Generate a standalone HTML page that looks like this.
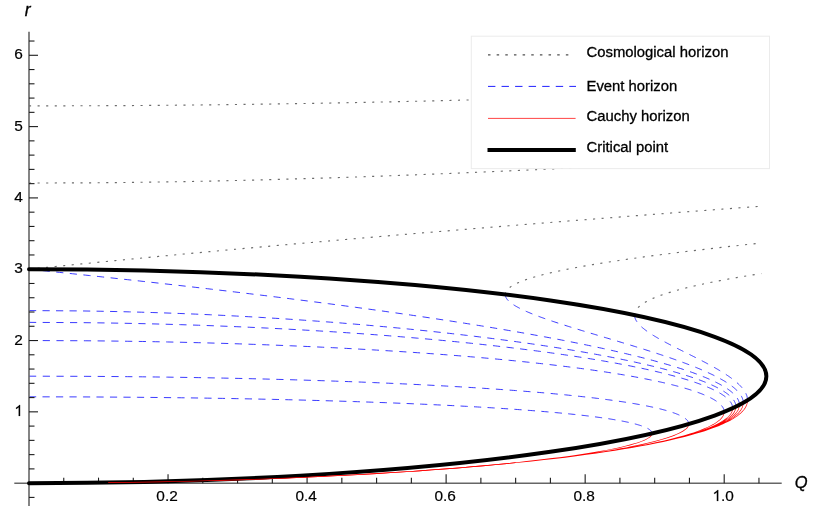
<!DOCTYPE html>
<html><head><meta charset="utf-8"><title>Horizons</title>
<style>
html,body{margin:0;padding:0;background:#fff;}
body{width:830px;height:520px;overflow:hidden;font-family:"Liberation Sans",sans-serif;}
svg{display:block;will-change:transform;}
text{font-family:"Liberation Sans",sans-serif;font-size:14.85px;fill:#000;stroke:#000;stroke-width:0.3px;}
#ticklabels text{font-size:15.4px;stroke-width:0.2px;}
</style></head><body>
<svg width="830" height="520" viewBox="0 0 830 520">
<rect width="830" height="520" fill="#fff"/>
<g id="ticklabels">
<text transform="translate(167.04,501.00) scale(1,1.000)" text-anchor="middle">0.2</text>
<text transform="translate(306.08,501.00) scale(1,1.000)" text-anchor="middle">0.4</text>
<text transform="translate(445.12,501.00) scale(1,1.000)" text-anchor="middle">0.6</text>
<text transform="translate(584.16,501.00) scale(1,1.000)" text-anchor="middle">0.8</text>
<path d="M763 0H583V1147Q518 1085 412.5 1023T223 930V1104Q380 1178 497.5 1283T664 1466H763Z" transform="translate(712.50,501.00) scale(0.007520,-0.007520)" fill="#000" stroke="#000" stroke-width="26.6"/>
<text transform="translate(721.06,501.00) scale(1,1.000)" text-anchor="start">.0</text>
<text transform="translate(22.90,344.63) scale(1,1.000)" text-anchor="end">2</text>
<text transform="translate(22.90,273.32) scale(1,1.000)" text-anchor="end">3</text>
<text transform="translate(22.90,202.01) scale(1,1.000)" text-anchor="end">4</text>
<text transform="translate(22.90,130.70) scale(1,1.000)" text-anchor="end">5</text>
<text transform="translate(22.90,59.39) scale(1,1.000)" text-anchor="end">6</text>
<path d="M763 0H583V1147Q518 1085 412.5 1023T223 930V1104Q380 1178 497.5 1283T664 1466H763Z" transform="translate(14.34,415.94) scale(0.007520,-0.007520)" fill="#000" stroke="#000" stroke-width="26.6"/>
</g>
<text x="24.8" y="16.3" font-style="italic" style="font-size:17.5px">r</text>
<text x="794.8" y="487.5" font-style="italic" style="font-size:16.5px">Q</text>
<g id="curves">
<g fill="none" stroke="#6c6c6c" stroke-width="1.15" stroke-dasharray="2.1 6.48">
<path d="M634.60,315.16 L634.61,314.83 L634.63,314.49 L634.66,314.16 L634.71,313.82 L634.77,313.48 L634.84,313.15 L634.93,312.81 L635.03,312.48 L635.14,312.14 L635.27,311.81 L635.41,311.47 L635.56,311.13 L635.73,310.80 L635.92,310.46 L636.12,310.13 L636.33,309.79 L636.56,309.46 L636.80,309.12 L637.06,308.78 L637.33,308.45 L637.62,308.11 L637.92,307.78 L638.24,307.44 L638.58,307.11 L638.93,306.77 L639.29,306.43 L639.67,306.10 L640.07,305.76 L640.48,305.43 L640.91,305.09 L641.36,304.76 L641.82,304.42 L642.29,304.08 L642.79,303.75 L643.30,303.41 L643.83,303.08 L644.37,302.74 L644.93,302.41 L645.51,302.07 L646.10,301.73 L646.71,301.40 L647.34,301.06 L647.99,300.73 L648.65,300.39 L649.33,300.06 L650.03,299.72 L650.74,299.38 L651.47,299.05 L652.22,298.71 L652.99,298.38 L653.78,298.04 L654.58,297.71 L655.40,297.37 L656.24,297.03 L657.10,296.70 L657.97,296.36 L658.86,296.03 L659.78,295.69 L660.70,295.36 L661.65,295.02 L662.62,294.69 L663.60,294.35 L664.60,294.01 L665.63,293.68 L666.66,293.34 L667.72,293.01 L668.80,292.67 L669.89,292.34 L671.01,292.00 L672.14,291.66 L673.29,291.33 L674.46,290.99 L675.65,290.66 L676.86,290.32 L678.08,289.99 L679.33,289.65 L680.59,289.31 L681.87,288.98 L683.17,288.64 L684.49,288.31 L685.83,287.97 L687.19,287.64 L688.57,287.30 L689.96,286.96 L691.38,286.63 L692.81,286.29 L694.27,285.96 L695.74,285.62 L697.23,285.29 L698.74,284.95 L700.27,284.61 L701.81,284.28 L703.38,283.94 L704.97,283.61 L706.57,283.27 L708.20,282.94 L709.84,282.60 L711.50,282.26 L713.18,281.93 L714.88,281.59 L716.60,281.26 L718.34,280.92 L720.09,280.59 L721.87,280.25 L723.66,279.91 L725.48,279.58 L727.31,279.24 L729.16,278.91 L731.03,278.57 L732.92,278.24 L734.82,277.90 L736.75,277.56 L738.69,277.23 L740.66,276.89 L742.64,276.56 L744.64,276.22 L746.66,275.89 L748.69,275.55 L750.75,275.22 L752.83,274.88 L754.92,274.54 L757.03,274.21 L759.16,273.87 L761.31,273.54"/>
<path d="M505.24,294.52 L505.25,294.20 L505.28,293.89 L505.32,293.57 L505.38,293.25 L505.46,292.93 L505.56,292.61 L505.68,292.29 L505.81,291.97 L505.96,291.66 L506.14,291.34 L506.33,291.02 L506.54,290.70 L506.77,290.38 L507.01,290.06 L507.28,289.75 L507.57,289.43 L507.87,289.11 L508.19,288.79 L508.54,288.47 L508.90,288.15 L509.29,287.83 L509.69,287.52 L510.11,287.20 L510.55,286.88 L511.02,286.56 L511.50,286.24 L512.00,285.92 L512.53,285.60 L513.07,285.29 L513.63,284.97 L514.22,284.65 L514.82,284.33 L515.45,284.01 L516.09,283.69 L516.76,283.38 L517.45,283.06 L518.16,282.74 L518.88,282.42 L519.63,282.10 L520.40,281.78 L521.19,281.46 L522.01,281.15 L522.84,280.83 L523.69,280.51 L524.57,280.19 L525.46,279.87 L526.38,279.55 L527.32,279.24 L528.28,278.92 L529.26,278.60 L530.26,278.28 L531.28,277.96 L532.32,277.64 L533.39,277.32 L534.47,277.01 L535.58,276.69 L536.70,276.37 L537.85,276.05 L539.02,275.73 L540.21,275.41 L541.42,275.10 L542.65,274.78 L543.91,274.46 L545.18,274.14 L546.48,273.82 L547.79,273.50 L549.13,273.18 L550.49,272.87 L551.87,272.55 L553.26,272.23 L554.68,271.91 L556.12,271.59 L557.59,271.27 L559.07,270.95 L560.57,270.64 L562.09,270.32 L563.64,270.00 L565.20,269.68 L566.78,269.36 L568.39,269.04 L570.01,268.73 L571.66,268.41 L573.32,268.09 L575.01,267.77 L576.71,267.45 L578.44,267.13 L580.18,266.81 L581.95,266.50 L583.73,266.18 L585.54,265.86 L587.36,265.54 L589.20,265.22 L591.07,264.90 L592.95,264.59 L594.85,264.27 L596.77,263.95 L598.71,263.63 L600.67,263.31 L602.65,262.99 L604.65,262.67 L606.67,262.36 L608.70,262.04 L610.76,261.72 L612.83,261.40 L614.92,261.08 L617.03,260.76 L619.16,260.45 L621.31,260.13 L623.47,259.81 L625.66,259.49 L627.86,259.17 L630.08,258.85 L632.32,258.53 L634.57,258.22 L636.85,257.90 L639.14,257.58 L641.45,257.26 L643.77,256.94 L646.12,256.62 L648.48,256.31 L650.86,255.99 L653.25,255.67 L655.67,255.35 L658.10,255.03 L660.55,254.71 L663.01,254.39 L665.49,254.08 L667.99,253.76 L670.51,253.44 L673.04,253.12 L675.59,252.80 L678.15,252.48 L680.73,252.16 L683.33,251.85 L685.94,251.53 L688.57,251.21 L691.22,250.89 L693.88,250.57 L696.56,250.25 L699.25,249.94 L701.96,249.62 L704.69,249.30 L707.43,248.98 L710.18,248.66 L712.95,248.34 L715.74,248.02 L718.54,247.71 L721.36,247.39 L724.19,247.07 L727.04,246.75 L729.90,246.43 L732.78,246.11 L735.67,245.80 L738.58,245.48 L741.50,245.16 L744.44,244.84 L747.39,244.52 L750.36,244.20 L753.34,243.88 L756.33,243.57 L759.34,243.25"/>
<path d="M29.00,269.22 L31.90,268.92 L34.81,268.63 L37.72,268.33 L40.64,268.03 L43.56,267.73 L46.49,267.44 L49.43,267.14 L52.36,266.84 L55.31,266.54 L58.26,266.25 L61.21,265.95 L64.18,265.65 L67.14,265.35 L70.11,265.06 L73.09,264.76 L76.07,264.46 L79.06,264.16 L82.05,263.87 L85.05,263.57 L88.05,263.27 L91.06,262.98 L94.08,262.68 L97.10,262.38 L100.12,262.08 L103.15,261.79 L106.19,261.49 L109.23,261.19 L112.27,260.89 L115.33,260.60 L118.38,260.30 L121.44,260.00 L124.51,259.70 L127.58,259.41 L130.66,259.11 L133.75,258.81 L136.83,258.51 L139.93,258.22 L143.03,257.92 L146.13,257.62 L149.24,257.33 L152.36,257.03 L155.48,256.73 L158.60,256.43 L161.74,256.14 L164.87,255.84 L168.01,255.54 L171.16,255.24 L174.31,254.95 L177.47,254.65 L180.63,254.35 L183.80,254.05 L186.98,253.76 L190.15,253.46 L193.34,253.16 L196.53,252.86 L199.72,252.57 L202.92,252.27 L206.13,251.97 L209.34,251.68 L212.55,251.38 L215.77,251.08 L219.00,250.78 L222.23,250.49 L225.47,250.19 L228.71,249.89 L231.96,249.59 L235.21,249.30 L238.47,249.00 L241.73,248.70 L245.00,248.40 L248.27,248.11 L251.55,247.81 L254.84,247.51 L258.13,247.21 L261.42,246.92 L264.72,246.62 L268.03,246.32 L271.34,246.02 L274.65,245.73 L277.97,245.43 L281.30,245.13 L284.63,244.84 L287.97,244.54 L291.31,244.24 L294.66,243.94 L298.01,243.65 L301.37,243.35 L304.73,243.05 L308.10,242.75 L311.47,242.46 L314.85,242.16 L318.23,241.86 L321.62,241.56 L325.01,241.27 L328.41,240.97 L331.82,240.67 L335.23,240.37 L338.64,240.08 L342.06,239.78 L345.49,239.48 L348.92,239.19 L352.36,238.89 L355.80,238.59 L359.24,238.29 L362.69,238.00 L366.15,237.70 L369.61,237.40 L373.08,237.10 L376.55,236.81 L380.03,236.51 L383.51,236.21 L387.00,235.91 L390.49,235.62 L393.99,235.32 L397.50,235.02 L401.01,234.72 L404.52,234.43 L408.04,234.13 L411.56,233.83 L415.09,233.54 L418.63,233.24 L422.17,232.94 L425.71,232.64 L429.26,232.35 L432.82,232.05 L436.38,231.75 L439.94,231.45 L443.52,231.16 L447.09,230.86 L450.67,230.56 L454.26,230.26 L457.85,229.97 L461.45,229.67 L465.05,229.37 L468.66,229.07 L472.27,228.78 L475.89,228.48 L479.51,228.18 L483.14,227.89 L486.77,227.59 L490.41,227.29 L494.05,226.99 L497.70,226.70 L501.36,226.40 L505.02,226.10 L508.68,225.80 L512.35,225.51 L516.02,225.21 L519.70,224.91 L523.39,224.61 L527.08,224.32 L530.77,224.02 L534.47,223.72 L538.18,223.42 L541.89,223.13 L545.60,222.83 L549.32,222.53 L553.05,222.24 L556.78,221.94 L560.52,221.64 L564.26,221.34 L568.01,221.05 L571.76,220.75 L575.51,220.45 L579.28,220.15 L583.04,219.86 L586.82,219.56 L590.59,219.26 L594.38,218.96 L598.16,218.67 L601.96,218.37 L605.75,218.07 L609.56,217.77 L613.37,217.48 L617.18,217.18 L621.00,216.88 L624.82,216.59 L628.65,216.29 L632.48,215.99 L636.32,215.69 L640.17,215.40 L644.02,215.10 L647.87,214.80 L651.73,214.50 L655.59,214.21 L659.46,213.91 L663.34,213.61 L667.22,213.31 L671.10,213.02 L674.99,212.72 L678.89,212.42 L682.79,212.12 L686.69,211.83 L690.61,211.53 L694.52,211.23 L698.44,210.93 L702.37,210.64 L706.30,210.34 L710.23,210.04 L714.18,209.75 L718.12,209.45 L722.07,209.15 L726.03,208.85 L729.99,208.56 L733.96,208.26 L737.93,207.96 L741.91,207.66 L745.89,207.37 L749.88,207.07 L753.87,206.77 L757.87,206.47"/>
<path d="M29.00,183.05 L89.86,182.82 L115.19,182.60 L134.71,182.37 L151.24,182.15 L165.85,181.92 L179.13,181.70 L191.38,181.47 L202.83,181.24 L213.64,181.02 L223.89,180.79 L233.69,180.57 L243.09,180.34 L252.14,180.12 L260.88,179.89 L269.35,179.67 L277.57,179.44 L285.58,179.22 L293.38,178.99 L301.00,178.76 L308.44,178.54 L315.74,178.31 L322.89,178.09 L329.90,177.86 L336.79,177.64 L343.57,177.41 L350.23,177.19 L356.80,176.96 L363.27,176.73 L369.64,176.51 L375.94,176.28 L382.15,176.06 L388.28,175.83 L394.35,175.61 L400.34,175.38 L406.27,175.16 L412.13,174.93 L417.94,174.71 L423.69,174.48 L429.38,174.25 L435.02,174.03 L440.62,173.80 L446.16,173.58 L451.66,173.35 L457.12,173.13 L462.53,172.90 L467.90,172.68 L473.23,172.45 L478.53,172.22 L483.79,172.00 L489.01,171.77 L494.20,171.55 L499.36,171.32 L504.48,171.10 L509.58,170.87 L514.64,170.65 L519.68,170.42 L524.69,170.19 L529.67,169.97 L534.63,169.74 L539.56,169.52 L544.47,169.29 L549.35,169.07 L554.21,168.84 L559.05,168.62 L563.87,168.39 L568.66,168.17 L573.44,167.94 L578.20,167.71 L582.93,167.49 L587.65,167.26 L592.35,167.04 L597.03,166.81 L601.70,166.59 L606.35,166.36 L610.98,166.14 L615.60,165.91 L620.20,165.68 L624.78,165.46 L629.36,165.23 L633.91,165.01 L638.46,164.78 L642.98,164.56 L647.50,164.33 L652.00,164.11 L656.49,163.88 L660.97,163.66 L665.44,163.43 L669.89,163.20 L674.34,162.98 L678.77,162.75 L683.19,162.53 L687.60,162.30 L692.00,162.08 L696.39,161.85 L700.77,161.63 L705.14,161.40 L709.50,161.17 L713.85,160.95 L718.19,160.72 L722.53,160.50 L726.85,160.27 L731.17,160.05 L735.48,159.82 L739.78,159.60 L744.07,159.37 L748.36,159.15 L752.63,158.92 L756.90,158.69 L761.16,158.47"/>
<path d="M29.00,105.89 L99.78,105.73 L129.17,105.57 L151.76,105.41 L170.85,105.25 L187.70,105.09 L202.96,104.93 L217.03,104.77 L230.14,104.61 L242.49,104.44 L254.19,104.28 L265.34,104.12 L276.01,103.96 L286.27,103.80 L296.16,103.64 L305.72,103.48 L314.99,103.32 L323.98,103.15 L332.74,102.99 L341.27,102.83 L349.60,102.67 L357.73,102.51 L365.69,102.35 L373.49,102.19 L381.13,102.03 L388.63,101.87 L396.00,101.70 L403.24,101.54 L410.36,101.38 L417.36,101.22 L424.27,101.06 L431.07,100.90 L437.77,100.74 L444.38,100.58 L450.91,100.42 L457.35,100.25 L463.71,100.09 L470.00,99.93 L476.22,99.77 L482.36,99.61 L488.44,99.45 L494.45,99.29 L500.41,99.13 L506.30,98.96 L512.13,98.80 L517.91,98.64 L523.64,98.48 L529.32,98.32 L534.94,98.16 L540.52,98.00 L546.05,97.84 L551.54,97.68 L556.99,97.51 L562.39,97.35 L567.75,97.19 L573.07,97.03 L578.35,96.87 L583.60,96.71 L588.81,96.55 L593.98,96.39 L599.12,96.22 L604.22,96.06 L609.30,95.90 L614.34,95.74 L619.35,95.58 L624.33,95.42 L629.28,95.26 L634.21,95.10 L639.10,94.94 L643.97,94.77 L648.81,94.61 L653.63,94.45 L658.42,94.29 L663.19,94.13 L667.93,93.97 L672.65,93.81 L677.34,93.65 L682.02,93.49 L686.67,93.32 L691.30,93.16 L695.91,93.00 L700.49,92.84 L705.06,92.68 L709.61,92.52 L714.14,92.36 L718.65,92.20 L723.14,92.03 L727.61,91.87 L732.06,91.71 L736.50,91.55 L740.92,91.39 L745.33,91.23 L749.71,91.07 L754.08,90.91 L758.44,90.75"/>
</g>
<!--BLUE-->
<g fill="none" stroke="#0808ff" stroke-width="0.8" stroke-dasharray="7.2 6.4">
<path stroke-dasharray="7.20 6.67" d="M634.60,315.16 L634.61,315.45 L634.62,315.73 L634.65,316.02 L634.68,316.30 L634.72,316.58 L634.77,316.87 L634.83,317.15 L634.89,317.44 L634.97,317.72 L635.05,318.01 L635.15,318.29 L635.25,318.58 L635.36,318.86 L635.47,319.14 L635.60,319.43 L635.73,319.71 L635.88,320.00 L636.03,320.28 L636.18,320.57 L636.35,320.85 L636.52,321.13 L636.70,321.42 L636.89,321.70 L637.09,321.99 L637.29,322.27 L637.50,322.56 L637.72,322.84 L637.94,323.13 L638.17,323.41 L638.41,323.69 L638.66,323.98 L638.91,324.26 L639.17,324.55 L639.44,324.83 L639.71,325.12 L639.99,325.40 L640.27,325.69 L640.57,325.97 L640.86,326.25 L641.17,326.54 L641.48,326.82 L641.80,327.11 L642.12,327.39 L642.45,327.68 L642.78,327.96 L643.12,328.24 L643.47,328.53 L643.82,328.81 L644.18,329.10 L644.54,329.38 L644.91,329.67 L645.28,329.95 L645.66,330.24 L646.04,330.52 L646.43,330.80 L646.82,331.09 L647.22,331.37 L647.62,331.66 L648.03,331.94 L648.44,332.23 L648.86,332.51 L649.28,332.80 L649.71,333.08 L650.14,333.36 L650.57,333.65 L651.01,333.93 L651.46,334.22 L651.90,334.50 L652.35,334.79 L652.81,335.07 L653.27,335.36 L653.73,335.64 L654.20,335.92 L654.67,336.21 L655.14,336.49 L655.62,336.78 L656.10,337.06 L656.59,337.35 L657.07,337.63 L657.56,337.91 L658.06,338.20 L658.55,338.48 L659.05,338.77 L659.56,339.05 L660.06,339.34 L660.57,339.62 L661.08,339.91 L661.60,340.19 L662.11,340.47 L662.63,340.76 L663.16,341.04 L663.68,341.33 L664.21,341.61 L664.74,341.90 L665.27,342.18 L665.80,342.47 L666.34,342.75 L666.87,343.03 L667.41,343.32 L667.95,343.60 L668.50,343.89 L669.04,344.17 L669.59,344.46 L670.14,344.74 L670.69,345.03 L671.24,345.31 L671.79,345.59 L672.35,345.88 L672.90,346.16 L673.46,346.45 L674.02,346.73 L674.58,347.02 L675.14,347.30 L675.70,347.58 L676.26,347.87 L676.82,348.15 L677.39,348.44 L677.95,348.72 L678.52,349.01 L679.09,349.29 L679.65,349.58 L680.22,349.86 L680.79,350.14 L681.36,350.43 L681.93,350.71 L682.50,351.00 L683.07,351.28 L683.64,351.57 L684.21,351.85 L684.78,352.14 L685.35,352.42 L685.92,352.70 L686.49,352.99 L687.06,353.27 L687.63,353.56 L688.20,353.84 L688.77,354.13 L689.34,354.41 L689.91,354.70 L690.48,354.98 L691.05,355.26 L691.62,355.55 L692.19,355.83 L692.75,356.12 L693.32,356.40 L693.88,356.69 L694.45,356.97 L695.01,357.25 L695.58,357.54 L696.14,357.82 L696.70,358.11 L697.26,358.39 L697.82,358.68 L698.38,358.96 L698.94,359.25 L699.49,359.53 L700.05,359.81 L700.60,360.10 L701.15,360.38 L701.71,360.67 L702.26,360.95 L702.80,361.24 L703.35,361.52 L703.90,361.81 L704.44,362.09 L704.98,362.37 L705.52,362.66 L706.06,362.94 L706.60,363.23 L707.13,363.51 L707.67,363.80 L708.20,364.08 L708.73,364.36 L709.26,364.65 L709.78,364.93 L710.31,365.22 L710.83,365.50 L711.35,365.79 L711.86,366.07 L712.38,366.36 L712.89,366.64 L713.40,366.92 L713.91,367.21 L714.42,367.49 L714.92,367.78 L715.42,368.06 L715.92,368.35 L716.42,368.63 L716.91,368.92 L717.40,369.20 L717.89,369.48 L718.37,369.77 L718.86,370.05 L719.34,370.34 L719.81,370.62 L720.29,370.91 L720.76,371.19 L721.23,371.48 L721.69,371.76 L722.16,372.04 L722.62,372.33 L723.07,372.61 L723.53,372.90 L723.98,373.18 L724.42,373.47 L724.87,373.75 L725.31,374.03 L725.75,374.32 L726.18,374.60 L726.61,374.89 L727.04,375.17 L727.46,375.46 L727.88,375.74 L728.30,376.03 L728.71,376.31 L729.12,376.59 L729.53,376.88 L729.93,377.16 L730.33,377.45 L730.73,377.73 L731.12,378.02 L731.51,378.30 L731.89,378.59 L732.27,378.87 L732.65,379.15 L733.02,379.44 L733.39,379.72 L733.75,380.01 L734.11,380.29 L734.47,380.58 L734.82,380.86 L735.17,381.15 L735.52,381.43 L735.86,381.71 L736.19,382.00 L736.52,382.28 L736.85,382.57 L737.17,382.85 L737.49,383.14 L737.81,383.42 L738.12,383.70 L738.42,383.99 L738.73,384.27 L739.02,384.56 L739.31,384.84 L739.60,385.13 L739.89,385.41 L740.16,385.70 L740.44,385.98 L740.71,386.26 L740.97,386.55 L741.23,386.83 L741.49,387.12 L741.74,387.40 L741.98,387.69 L742.22,387.97 L742.46,388.26 L742.69,388.54 L742.92,388.82 L743.14,389.11 L743.35,389.39 L743.56,389.68 L743.77,389.96 L743.97,390.25 L744.17,390.53 L744.36,390.81 L744.54,391.10 L744.72,391.38 L744.90,391.67 L745.07,391.95 L745.23,392.24 L745.39,392.52 L745.54,392.81 L745.69,393.09 L745.83,393.37 L745.97,393.66 L746.10,393.94 L746.23,394.23 L746.35,394.51 L746.46,394.80 L746.57,395.08 L746.68,395.37 L746.77,395.65 L746.87,395.93 L746.95,396.22 L747.03,396.50 L747.11,396.79 L747.18,397.07 L747.24,397.36 L747.30,397.64 L747.35,397.93 L747.40,398.21 L747.44,398.49 L747.47,398.78 L747.50,399.06 L747.52,399.35 L747.53,399.63 L747.54,399.92 L747.55,400.20"/>
<path stroke-dasharray="7.20 6.54" d="M505.24,294.52 L505.25,294.88 L505.29,295.25 L505.34,295.61 L505.42,295.97 L505.52,296.33 L505.64,296.69 L505.78,297.06 L505.95,297.42 L506.13,297.78 L506.34,298.14 L506.57,298.50 L506.81,298.87 L507.08,299.23 L507.37,299.59 L507.68,299.95 L508.00,300.31 L508.35,300.68 L508.72,301.04 L509.10,301.40 L509.50,301.76 L509.92,302.12 L510.36,302.49 L510.82,302.85 L511.30,303.21 L511.79,303.57 L512.30,303.93 L512.83,304.30 L513.37,304.66 L513.93,305.02 L514.51,305.38 L515.10,305.74 L515.71,306.11 L516.34,306.47 L516.98,306.83 L517.63,307.19 L518.30,307.55 L518.99,307.92 L519.69,308.28 L520.40,308.64 L521.13,309.00 L521.87,309.36 L522.63,309.73 L523.40,310.09 L524.18,310.45 L524.97,310.81 L525.78,311.17 L526.60,311.54 L527.44,311.90 L528.28,312.26 L529.14,312.62 L530.00,312.98 L530.88,313.35 L531.77,313.71 L532.68,314.07 L533.59,314.43 L534.51,314.79 L535.44,315.16 L536.39,315.52 L537.34,315.88 L538.30,316.24 L539.27,316.60 L540.26,316.97 L541.25,317.33 L542.24,317.69 L543.25,318.05 L544.27,318.41 L545.29,318.78 L546.32,319.14 L547.36,319.50 L548.41,319.86 L549.47,320.22 L550.53,320.59 L551.60,320.95 L552.68,321.31 L553.76,321.67 L554.85,322.03 L555.94,322.40 L557.05,322.76 L558.15,323.12 L559.27,323.48 L560.39,323.84 L561.51,324.21 L562.64,324.57 L563.77,324.93 L564.91,325.29 L566.06,325.65 L567.21,326.02 L568.36,326.38 L569.52,326.74 L570.68,327.10 L571.84,327.46 L573.01,327.83 L574.18,328.19 L575.36,328.55 L576.54,328.91 L577.72,329.27 L578.91,329.64 L580.09,330.00 L581.28,330.36 L582.48,330.72 L583.67,331.08 L584.87,331.45 L586.07,331.81 L587.27,332.17 L588.47,332.53 L589.68,332.89 L590.89,333.26 L592.09,333.62 L593.30,333.98 L594.51,334.34 L595.72,334.70 L596.94,335.07 L598.15,335.43 L599.36,335.79 L600.57,336.15 L601.79,336.51 L603.00,336.88 L604.22,337.24 L605.43,337.60 L606.64,337.96 L607.86,338.32 L609.07,338.69 L610.28,339.05 L611.50,339.41 L612.71,339.77 L613.92,340.13 L615.13,340.50 L616.34,340.86 L617.54,341.22 L618.75,341.58 L619.95,341.94 L621.16,342.31 L622.36,342.67 L623.56,343.03 L624.76,343.39 L625.95,343.75 L627.15,344.12 L628.34,344.48 L629.53,344.84 L630.72,345.20 L631.90,345.56 L633.09,345.93 L634.27,346.29 L635.44,346.65 L636.62,347.01 L637.79,347.37 L638.96,347.74 L640.13,348.10 L641.29,348.46 L642.45,348.82 L643.60,349.18 L644.76,349.54 L645.91,349.91 L647.05,350.27 L648.20,350.63 L649.33,350.99 L650.47,351.35 L651.60,351.72 L652.73,352.08 L653.85,352.44 L654.97,352.80 L656.09,353.16 L657.20,353.53 L658.30,353.89 L659.40,354.25 L660.50,354.61 L661.60,354.97 L662.68,355.34 L663.77,355.70 L664.85,356.06 L665.92,356.42 L666.99,356.78 L668.05,357.15 L669.11,357.51 L670.17,357.87 L671.22,358.23 L672.26,358.59 L673.30,358.96 L674.33,359.32 L675.36,359.68 L676.38,360.04 L677.40,360.40 L678.41,360.77 L679.42,361.13 L680.42,361.49 L681.41,361.85 L682.40,362.21 L683.38,362.58 L684.36,362.94 L685.33,363.30 L686.29,363.66 L687.25,364.02 L688.20,364.39 L689.14,364.75 L690.08,365.11 L691.02,365.47 L691.94,365.83 L692.86,366.20 L693.77,366.56 L694.68,366.92 L695.58,367.28 L696.47,367.64 L697.36,368.01 L698.24,368.37 L699.11,368.73 L699.98,369.09 L700.83,369.45 L701.69,369.82 L702.53,370.18 L703.37,370.54 L704.20,370.90 L705.02,371.26 L705.84,371.63 L706.64,371.99 L707.44,372.35 L708.24,372.71 L709.02,373.07 L709.80,373.44 L710.57,373.80 L711.33,374.16 L712.09,374.52 L712.84,374.88 L713.57,375.25 L714.31,375.61 L715.03,375.97 L715.75,376.33 L716.45,376.69 L717.15,377.06 L717.84,377.42 L718.53,377.78 L719.20,378.14 L719.87,378.50 L720.53,378.87 L721.18,379.23 L721.82,379.59 L722.45,379.95 L723.08,380.31 L723.69,380.68 L724.30,381.04 L724.90,381.40 L725.49,381.76 L726.07,382.12 L726.64,382.49 L727.21,382.85 L727.76,383.21 L728.31,383.57 L728.85,383.93 L729.37,384.30 L729.89,384.66 L730.40,385.02 L730.90,385.38 L731.39,385.74 L731.88,386.11 L732.35,386.47 L732.81,386.83 L733.27,387.19 L733.71,387.55 L734.15,387.92 L734.57,388.28 L734.99,388.64 L735.40,389.00 L735.79,389.36 L736.18,389.73 L736.56,390.09 L736.93,390.45 L737.28,390.81 L737.63,391.17 L737.97,391.54 L738.30,391.90 L738.62,392.26 L738.92,392.62 L739.22,392.98 L739.51,393.35 L739.79,393.71 L740.05,394.07 L740.31,394.43 L740.56,394.79 L740.79,395.16 L741.02,395.52 L741.23,395.88 L741.44,396.24 L741.63,396.60 L741.82,396.97 L741.99,397.33 L742.15,397.69 L742.30,398.05 L742.44,398.41 L742.57,398.78 L742.69,399.14 L742.79,399.50 L742.89,399.86 L742.98,400.22 L743.05,400.59 L743.11,400.95 L743.16,401.31 L743.20,401.67 L743.23,402.03 L743.25,402.40 L743.26,402.76"/>
<path stroke-dasharray="7.20 6.47" d="M29.00,269.22 L33.42,269.67 L37.82,270.13 L42.21,270.58 L46.59,271.03 L50.95,271.49 L55.31,271.94 L59.65,272.40 L63.98,272.85 L68.29,273.30 L72.60,273.76 L76.89,274.21 L81.16,274.66 L85.43,275.12 L89.68,275.57 L93.92,276.02 L98.15,276.48 L102.36,276.93 L106.57,277.38 L110.76,277.84 L114.93,278.29 L119.10,278.75 L123.25,279.20 L127.39,279.65 L131.51,280.11 L135.63,280.56 L139.73,281.01 L143.82,281.47 L147.89,281.92 L151.96,282.37 L156.01,282.83 L160.04,283.28 L164.07,283.74 L168.08,284.19 L172.08,284.64 L176.07,285.10 L180.04,285.55 L184.00,286.00 L187.95,286.46 L191.89,286.91 L195.81,287.36 L199.72,287.82 L203.62,288.27 L207.50,288.72 L211.37,289.18 L215.23,289.63 L219.08,290.09 L222.91,290.54 L226.73,290.99 L230.54,291.45 L234.33,291.90 L238.11,292.35 L241.88,292.81 L245.64,293.26 L249.38,293.71 L253.11,294.17 L256.83,294.62 L260.53,295.08 L264.22,295.53 L267.90,295.98 L271.56,296.44 L275.22,296.89 L278.86,297.34 L282.48,297.80 L286.09,298.25 L289.69,298.70 L293.28,299.16 L296.86,299.61 L300.42,300.06 L303.96,300.52 L307.50,300.97 L311.02,301.43 L314.53,301.88 L318.03,302.33 L321.51,302.79 L324.98,303.24 L328.43,303.69 L331.88,304.15 L335.31,304.60 L338.72,305.05 L342.13,305.51 L345.52,305.96 L348.89,306.42 L352.26,306.87 L355.61,307.32 L358.95,307.78 L362.27,308.23 L365.58,308.68 L368.88,309.14 L372.16,309.59 L375.44,310.04 L378.69,310.50 L381.94,310.95 L385.17,311.40 L388.39,311.86 L391.59,312.31 L394.78,312.77 L397.96,313.22 L401.13,313.67 L404.28,314.13 L407.42,314.58 L410.54,315.03 L413.65,315.49 L416.75,315.94 L419.83,316.39 L422.90,316.85 L425.96,317.30 L429.00,317.76 L432.03,318.21 L435.05,318.66 L438.05,319.12 L441.04,319.57 L444.02,320.02 L446.98,320.48 L449.93,320.93 L452.87,321.38 L455.79,321.84 L458.70,322.29 L461.59,322.74 L464.47,323.20 L467.34,323.65 L470.19,324.11 L473.03,324.56 L475.86,325.01 L478.67,325.47 L481.47,325.92 L484.25,326.37 L487.02,326.83 L489.78,327.28 L492.53,327.73 L495.25,328.19 L497.97,328.64 L500.67,329.10 L503.36,329.55 L506.04,330.00 L508.70,330.46 L511.34,330.91 L513.97,331.36 L516.59,331.82 L519.20,332.27 L521.79,332.72 L524.36,333.18 L526.93,333.63 L529.48,334.08 L532.01,334.54 L534.53,334.99 L537.04,335.45 L539.53,335.90 L542.01,336.35 L544.47,336.81 L546.92,337.26 L549.36,337.71 L551.78,338.17 L554.19,338.62 L556.58,339.07 L558.96,339.53 L561.32,339.98 L563.68,340.44 L566.01,340.89 L568.33,341.34 L570.64,341.80 L572.93,342.25 L575.21,342.70 L577.48,343.16 L579.73,343.61 L581.96,344.06 L584.18,344.52 L586.39,344.97 L588.58,345.42 L590.76,345.88 L592.92,346.33 L595.07,346.79 L597.21,347.24 L599.33,347.69 L601.43,348.15 L603.52,348.60 L605.60,349.05 L607.66,349.51 L609.70,349.96 L611.74,350.41 L613.75,350.87 L615.75,351.32 L617.74,351.78 L619.71,352.23 L621.67,352.68 L623.61,353.14 L625.54,353.59 L627.45,354.04 L629.35,354.50 L631.23,354.95 L633.10,355.40 L634.95,355.86 L636.79,356.31 L638.62,356.76 L640.42,357.22 L642.22,357.67 L643.99,358.13 L645.76,358.58 L647.50,359.03 L649.23,359.49 L650.95,359.94 L652.65,360.39 L654.34,360.85 L656.01,361.30 L657.66,361.75 L659.30,362.21 L660.93,362.66 L662.54,363.12 L664.13,363.57 L665.71,364.02 L667.27,364.48 L668.82,364.93 L670.35,365.38 L671.87,365.84 L673.37,366.29 L674.85,366.74 L676.32,367.20 L677.77,367.65 L679.21,368.10 L680.63,368.56 L682.03,369.01 L683.42,369.47 L684.80,369.92 L686.16,370.37 L687.50,370.83 L688.82,371.28 L690.13,371.73 L691.43,372.19 L692.70,372.64 L693.96,373.09 L695.21,373.55 L696.44,374.00 L697.65,374.46 L698.85,374.91 L700.03,375.36 L701.19,375.82 L702.34,376.27 L703.47,376.72 L704.58,377.18 L705.68,377.63 L706.76,378.08 L707.82,378.54 L708.87,378.99 L709.90,379.44 L710.92,379.90 L711.91,380.35 L712.89,380.81 L713.86,381.26 L714.80,381.71 L715.73,382.17 L716.65,382.62 L717.54,383.07 L718.42,383.53 L719.28,383.98 L720.13,384.43 L720.95,384.89 L721.76,385.34 L722.55,385.80 L723.33,386.25 L724.09,386.70 L724.83,387.16 L725.55,387.61 L726.25,388.06 L726.94,388.52 L727.61,388.97 L728.26,389.42 L728.89,389.88 L729.51,390.33 L730.11,390.78 L730.69,391.24 L731.25,391.69 L731.79,392.15 L732.32,392.60 L732.83,393.05 L733.31,393.51 L733.79,393.96 L734.24,394.41 L734.67,394.87 L735.09,395.32 L735.48,395.77 L735.86,396.23 L736.22,396.68 L736.56,397.13 L736.88,397.59 L737.19,398.04 L737.47,398.50 L737.73,398.95 L737.98,399.40 L738.21,399.86 L738.41,400.31 L738.60,400.76 L738.77,401.22 L738.92,401.67 L739.05,402.12 L739.16,402.58 L739.25,403.03 L739.32,403.49 L739.37,403.94 L739.40,404.39 L739.41,404.85"/>
<path stroke-dasharray="7.20 6.31" d="M29.00,310.59 L79.26,310.91 L100.08,311.23 L116.06,311.55 L129.54,311.88 L141.41,312.20 L152.15,312.52 L162.02,312.84 L171.21,313.16 L179.84,313.48 L188.01,313.80 L195.77,314.12 L203.19,314.44 L210.31,314.77 L217.15,315.09 L223.76,315.41 L230.15,315.73 L236.34,316.05 L242.35,316.37 L248.19,316.69 L253.88,317.01 L259.43,317.34 L264.85,317.66 L270.14,317.98 L275.32,318.30 L280.39,318.62 L285.35,318.94 L290.22,319.26 L295.00,319.58 L299.69,319.90 L304.30,320.23 L308.83,320.55 L313.29,320.87 L317.67,321.19 L321.99,321.51 L326.24,321.83 L330.43,322.15 L334.56,322.47 L338.63,322.79 L342.64,323.12 L346.60,323.44 L350.51,323.76 L354.37,324.08 L358.17,324.40 L361.94,324.72 L365.65,325.04 L369.32,325.36 L372.95,325.69 L376.54,326.01 L380.09,326.33 L383.59,326.65 L387.06,326.97 L390.49,327.29 L393.89,327.61 L397.25,327.93 L400.58,328.25 L403.87,328.58 L407.13,328.90 L410.35,329.22 L413.55,329.54 L416.71,329.86 L419.85,330.18 L422.95,330.50 L426.03,330.82 L429.08,331.14 L432.10,331.47 L435.09,331.79 L438.06,332.11 L441.00,332.43 L443.91,332.75 L446.80,333.07 L449.66,333.39 L452.50,333.71 L455.32,334.04 L458.11,334.36 L460.88,334.68 L463.63,335.00 L466.35,335.32 L469.05,335.64 L471.73,335.96 L474.39,336.28 L477.03,336.60 L479.65,336.93 L482.24,337.25 L484.82,337.57 L487.38,337.89 L489.91,338.21 L492.43,338.53 L494.92,338.85 L497.40,339.17 L499.86,339.49 L502.30,339.82 L504.73,340.14 L507.13,340.46 L509.52,340.78 L511.89,341.10 L514.24,341.42 L516.57,341.74 L518.89,342.06 L521.19,342.39 L523.47,342.71 L525.74,343.03 L527.99,343.35 L530.22,343.67 L532.44,343.99 L534.64,344.31 L536.83,344.63 L539.00,344.95 L541.15,345.28 L543.29,345.60 L545.41,345.92 L547.52,346.24 L549.62,346.56 L551.70,346.88 L553.76,347.20 L555.81,347.52 L557.84,347.84 L559.86,348.17 L561.87,348.49 L563.86,348.81 L565.84,349.13 L567.80,349.45 L569.75,349.77 L571.69,350.09 L573.61,350.41 L575.52,350.74 L577.41,351.06 L579.30,351.38 L581.16,351.70 L583.02,352.02 L584.86,352.34 L586.69,352.66 L588.50,352.98 L590.31,353.30 L592.10,353.63 L593.87,353.95 L595.64,354.27 L597.39,354.59 L599.12,354.91 L600.85,355.23 L602.56,355.55 L604.26,355.87 L605.95,356.19 L607.63,356.52 L609.29,356.84 L610.95,357.16 L612.58,357.48 L614.21,357.80 L615.83,358.12 L617.43,358.44 L619.02,358.76 L620.60,359.09 L622.17,359.41 L623.73,359.73 L625.27,360.05 L626.80,360.37 L628.32,360.69 L629.83,361.01 L631.33,361.33 L632.82,361.65 L634.29,361.98 L635.75,362.30 L637.21,362.62 L638.65,362.94 L640.08,363.26 L641.49,363.58 L642.90,363.90 L644.30,364.22 L645.68,364.54 L647.05,364.87 L648.42,365.19 L649.77,365.51 L651.11,365.83 L652.43,366.15 L653.75,366.47 L655.06,366.79 L656.35,367.11 L657.64,367.44 L658.91,367.76 L660.18,368.08 L661.43,368.40 L662.67,368.72 L663.90,369.04 L665.12,369.36 L666.33,369.68 L667.53,370.00 L668.71,370.33 L669.89,370.65 L671.06,370.97 L672.21,371.29 L673.36,371.61 L674.49,371.93 L675.62,372.25 L676.73,372.57 L677.83,372.89 L678.92,373.22 L680.01,373.54 L681.08,373.86 L682.14,374.18 L683.19,374.50 L684.23,374.82 L685.26,375.14 L686.28,375.46 L687.28,375.79 L688.28,376.11 L689.27,376.43 L690.25,376.75 L691.21,377.07 L692.17,377.39 L693.11,377.71 L694.05,378.03 L694.98,378.35 L695.89,378.68 L696.79,379.00 L697.69,379.32 L698.57,379.64 L699.45,379.96 L700.31,380.28 L701.16,380.60 L702.01,380.92 L702.84,381.24 L703.66,381.57 L704.47,381.89 L705.27,382.21 L706.06,382.53 L706.85,382.85 L707.62,383.17 L708.38,383.49 L709.13,383.81 L709.87,384.14 L710.60,384.46 L711.32,384.78 L712.03,385.10 L712.72,385.42 L713.41,385.74 L714.09,386.06 L714.76,386.38 L715.42,386.70 L716.07,387.03 L716.70,387.35 L717.33,387.67 L717.95,387.99 L718.55,388.31 L719.15,388.63 L719.74,388.95 L720.31,389.27 L720.88,389.59 L721.43,389.92 L721.98,390.24 L722.51,390.56 L723.04,390.88 L723.55,391.20 L724.06,391.52 L724.55,391.84 L725.03,392.16 L725.50,392.49 L725.97,392.81 L726.42,393.13 L726.86,393.45 L727.29,393.77 L727.71,394.09 L728.12,394.41 L728.52,394.73 L728.91,395.05 L729.29,395.38 L729.66,395.70 L730.02,396.02 L730.37,396.34 L730.71,396.66 L731.03,396.98 L731.35,397.30 L731.66,397.62 L731.95,397.94 L732.24,398.27 L732.51,398.59 L732.77,398.91 L733.03,399.23 L733.27,399.55 L733.50,399.87 L733.73,400.19 L733.94,400.51 L734.14,400.84 L734.33,401.16 L734.51,401.48 L734.67,401.80 L734.83,402.12 L734.98,402.44 L735.11,402.76 L735.24,403.08 L735.35,403.40 L735.46,403.73 L735.55,404.05 L735.63,404.37 L735.70,404.69 L735.76,405.01 L735.81,405.33 L735.85,405.65 L735.88,405.97 L735.90,406.29 L735.90,406.62"/>
<path stroke-dasharray="7.20 6.47" d="M29.00,322.37 L82.81,322.65 L105.07,322.94 L122.13,323.23 L136.49,323.51 L149.12,323.80 L160.52,324.09 L171.00,324.37 L180.73,324.66 L189.87,324.95 L198.49,325.23 L206.68,325.52 L214.49,325.81 L221.98,326.10 L229.17,326.38 L236.10,326.67 L242.79,326.96 L249.26,327.24 L255.54,327.53 L261.63,327.82 L267.56,328.10 L273.33,328.39 L278.96,328.68 L284.45,328.96 L289.82,329.25 L295.06,329.54 L300.20,329.83 L305.22,330.11 L310.15,330.40 L314.98,330.69 L319.72,330.97 L324.37,331.26 L328.94,331.55 L333.44,331.83 L337.85,332.12 L342.20,332.41 L346.47,332.69 L350.68,332.98 L354.83,333.27 L358.91,333.56 L362.93,333.84 L366.90,334.13 L370.81,334.42 L374.66,334.70 L378.47,334.99 L382.22,335.28 L385.92,335.56 L389.58,335.85 L393.19,336.14 L396.76,336.42 L400.28,336.71 L403.76,337.00 L407.20,337.29 L410.60,337.57 L413.97,337.86 L417.29,338.15 L420.57,338.43 L423.82,338.72 L427.04,339.01 L430.22,339.29 L433.36,339.58 L436.47,339.87 L439.55,340.15 L442.60,340.44 L445.62,340.73 L448.61,341.02 L451.56,341.30 L454.49,341.59 L457.39,341.88 L460.26,342.16 L463.10,342.45 L465.92,342.74 L468.71,343.02 L471.47,343.31 L474.21,343.60 L476.92,343.88 L479.61,344.17 L482.27,344.46 L484.91,344.75 L487.53,345.03 L490.12,345.32 L492.69,345.61 L495.24,345.89 L497.76,346.18 L500.26,346.47 L502.74,346.75 L505.20,347.04 L507.64,347.33 L510.06,347.61 L512.45,347.90 L514.83,348.19 L517.19,348.48 L519.52,348.76 L521.84,349.05 L524.14,349.34 L526.42,349.62 L528.68,349.91 L530.92,350.20 L533.15,350.48 L535.35,350.77 L537.54,351.06 L539.71,351.34 L541.86,351.63 L544.00,351.92 L546.12,352.20 L548.22,352.49 L550.30,352.78 L552.37,353.07 L554.42,353.35 L556.46,353.64 L558.48,353.93 L560.48,354.21 L562.47,354.50 L564.44,354.79 L566.40,355.07 L568.34,355.36 L570.27,355.65 L572.18,355.93 L574.07,356.22 L575.95,356.51 L577.82,356.80 L579.67,357.08 L581.51,357.37 L583.33,357.66 L585.14,357.94 L586.93,358.23 L588.71,358.52 L590.48,358.80 L592.23,359.09 L593.97,359.38 L595.70,359.66 L597.41,359.95 L599.11,360.24 L600.79,360.53 L602.47,360.81 L604.13,361.10 L605.77,361.39 L607.40,361.67 L609.02,361.96 L610.63,362.25 L612.23,362.53 L613.81,362.82 L615.38,363.11 L616.93,363.39 L618.48,363.68 L620.01,363.97 L621.53,364.26 L623.04,364.54 L624.53,364.83 L626.02,365.12 L627.49,365.40 L628.95,365.69 L630.40,365.98 L631.83,366.26 L633.26,366.55 L634.67,366.84 L636.07,367.12 L637.46,367.41 L638.84,367.70 L640.21,367.99 L641.56,368.27 L642.91,368.56 L644.24,368.85 L645.56,369.13 L646.87,369.42 L648.17,369.71 L649.46,369.99 L650.73,370.28 L652.00,370.57 L653.26,370.85 L654.50,371.14 L655.73,371.43 L656.96,371.72 L658.17,372.00 L659.37,372.29 L660.56,372.58 L661.74,372.86 L662.91,373.15 L664.07,373.44 L665.22,373.72 L666.35,374.01 L667.48,374.30 L668.60,374.58 L669.70,374.87 L670.80,375.16 L671.89,375.44 L672.96,375.73 L674.03,376.02 L675.08,376.31 L676.13,376.59 L677.16,376.88 L678.18,377.17 L679.20,377.45 L680.20,377.74 L681.20,378.03 L682.18,378.31 L683.16,378.60 L684.12,378.89 L685.07,379.17 L686.02,379.46 L686.95,379.75 L687.88,380.04 L688.79,380.32 L689.70,380.61 L690.59,380.90 L691.48,381.18 L692.35,381.47 L693.22,381.76 L694.08,382.04 L694.92,382.33 L695.76,382.62 L696.59,382.90 L697.40,383.19 L698.21,383.48 L699.01,383.77 L699.80,384.05 L700.58,384.34 L701.35,384.63 L702.11,384.91 L702.86,385.20 L703.60,385.49 L704.33,385.77 L705.05,386.06 L705.76,386.35 L706.47,386.63 L707.16,386.92 L707.84,387.21 L708.52,387.50 L709.18,387.78 L709.84,388.07 L710.49,388.36 L711.12,388.64 L711.75,388.93 L712.37,389.22 L712.98,389.50 L713.58,389.79 L714.17,390.08 L714.75,390.36 L715.32,390.65 L715.88,390.94 L716.44,391.23 L716.98,391.51 L717.52,391.80 L718.04,392.09 L718.56,392.37 L719.06,392.66 L719.56,392.95 L720.05,393.23 L720.53,393.52 L721.00,393.81 L721.46,394.09 L721.91,394.38 L722.35,394.67 L722.78,394.96 L723.21,395.24 L723.62,395.53 L724.03,395.82 L724.42,396.10 L724.81,396.39 L725.19,396.68 L725.55,396.96 L725.91,397.25 L726.26,397.54 L726.60,397.82 L726.93,398.11 L727.25,398.40 L727.57,398.69 L727.87,398.97 L728.16,399.26 L728.45,399.55 L728.72,399.83 L728.99,400.12 L729.25,400.41 L729.50,400.69 L729.73,400.98 L729.96,401.27 L730.18,401.55 L730.39,401.84 L730.60,402.13 L730.79,402.41 L730.97,402.70 L731.14,402.99 L731.31,403.28 L731.46,403.56 L731.61,403.85 L731.75,404.14 L731.87,404.42 L731.99,404.71 L732.10,405.00 L732.20,405.28 L732.29,405.57 L732.37,405.86 L732.44,406.14 L732.50,406.43 L732.55,406.72 L732.59,407.01 L732.63,407.29 L732.65,407.58 L732.66,407.87 L732.67,408.15"/>
<path stroke-dasharray="7.20 6.52" d="M29.00,340.53 L85.81,340.77 L109.27,341.01 L127.23,341.25 L142.33,341.48 L155.61,341.72 L167.57,341.96 L178.55,342.20 L188.74,342.44 L198.28,342.68 L207.29,342.91 L215.83,343.15 L223.97,343.39 L231.76,343.63 L239.24,343.87 L246.43,344.11 L253.37,344.35 L260.07,344.58 L266.57,344.82 L272.87,345.06 L278.99,345.30 L284.94,345.54 L290.73,345.78 L296.38,346.02 L301.90,346.25 L307.28,346.49 L312.55,346.73 L317.69,346.97 L322.73,347.21 L327.67,347.45 L332.51,347.68 L337.26,347.92 L341.91,348.16 L346.48,348.40 L350.97,348.64 L355.38,348.88 L359.72,349.12 L363.98,349.35 L368.18,349.59 L372.30,349.83 L376.36,350.07 L380.36,350.31 L384.30,350.55 L388.19,350.79 L392.01,351.02 L395.78,351.26 L399.50,351.50 L403.17,351.74 L406.78,351.98 L410.35,352.22 L413.87,352.45 L417.34,352.69 L420.77,352.93 L424.16,353.17 L427.51,353.41 L430.81,353.65 L434.07,353.89 L437.30,354.12 L440.48,354.36 L443.63,354.60 L446.74,354.84 L449.81,355.08 L452.85,355.32 L455.86,355.56 L458.83,355.79 L461.77,356.03 L464.68,356.27 L467.55,356.51 L470.40,356.75 L473.21,356.99 L476.00,357.22 L478.75,357.46 L481.48,357.70 L484.18,357.94 L486.85,358.18 L489.49,358.42 L492.11,358.66 L494.70,358.89 L497.26,359.13 L499.80,359.37 L502.31,359.61 L504.80,359.85 L507.27,360.09 L509.71,360.33 L512.13,360.56 L514.52,360.80 L516.89,361.04 L519.24,361.28 L521.57,361.52 L523.87,361.76 L526.15,361.99 L528.42,362.23 L530.66,362.47 L532.88,362.71 L535.08,362.95 L537.26,363.19 L539.42,363.43 L541.56,363.66 L543.68,363.90 L545.78,364.14 L547.86,364.38 L549.93,364.62 L551.97,364.86 L554.00,365.09 L556.01,365.33 L558.00,365.57 L559.97,365.81 L561.93,366.05 L563.87,366.29 L565.79,366.53 L567.70,366.76 L569.59,367.00 L571.46,367.24 L573.31,367.48 L575.15,367.72 L576.98,367.96 L578.78,368.20 L580.57,368.43 L582.35,368.67 L584.11,368.91 L585.86,369.15 L587.59,369.39 L589.30,369.63 L591.00,369.86 L592.69,370.10 L594.36,370.34 L596.02,370.58 L597.66,370.82 L599.29,371.06 L600.90,371.30 L602.50,371.53 L604.09,371.77 L605.66,372.01 L607.22,372.25 L608.76,372.49 L610.29,372.73 L611.81,372.97 L613.32,373.20 L614.81,373.44 L616.29,373.68 L617.76,373.92 L619.21,374.16 L620.65,374.40 L622.08,374.63 L623.49,374.87 L624.90,375.11 L626.29,375.35 L627.67,375.59 L629.03,375.83 L630.39,376.07 L631.73,376.30 L633.06,376.54 L634.38,376.78 L635.69,377.02 L636.98,377.26 L638.27,377.50 L639.54,377.74 L640.80,377.97 L642.05,378.21 L643.28,378.45 L644.51,378.69 L645.73,378.93 L646.93,379.17 L648.12,379.40 L649.31,379.64 L650.48,379.88 L651.64,380.12 L652.79,380.36 L653.92,380.60 L655.05,380.84 L656.17,381.07 L657.28,381.31 L658.37,381.55 L659.46,381.79 L660.53,382.03 L661.60,382.27 L662.65,382.51 L663.70,382.74 L664.73,382.98 L665.75,383.22 L666.77,383.46 L667.77,383.70 L668.77,383.94 L669.75,384.17 L670.72,384.41 L671.69,384.65 L672.64,384.89 L673.59,385.13 L674.52,385.37 L675.44,385.61 L676.36,385.84 L677.26,386.08 L678.16,386.32 L679.05,386.56 L679.92,386.80 L680.79,387.04 L681.65,387.28 L682.50,387.51 L683.34,387.75 L684.17,387.99 L684.99,388.23 L685.80,388.47 L686.60,388.71 L687.39,388.94 L688.18,389.18 L688.95,389.42 L689.72,389.66 L690.47,389.90 L691.22,390.14 L691.96,390.38 L692.69,390.61 L693.41,390.85 L694.12,391.09 L694.82,391.33 L695.52,391.57 L696.20,391.81 L696.88,392.04 L697.55,392.28 L698.20,392.52 L698.85,392.76 L699.50,393.00 L700.13,393.24 L700.75,393.48 L701.37,393.71 L701.97,393.95 L702.57,394.19 L703.16,394.43 L703.74,394.67 L704.32,394.91 L704.88,395.15 L705.44,395.38 L705.98,395.62 L706.52,395.86 L707.05,396.10 L707.57,396.34 L708.09,396.58 L708.59,396.81 L709.09,397.05 L709.58,397.29 L710.06,397.53 L710.53,397.77 L711.00,398.01 L711.45,398.25 L711.90,398.48 L712.34,398.72 L712.77,398.96 L713.19,399.20 L713.61,399.44 L714.01,399.68 L714.41,399.92 L714.80,400.15 L715.18,400.39 L715.56,400.63 L715.92,400.87 L716.28,401.11 L716.63,401.35 L716.97,401.58 L717.31,401.82 L717.63,402.06 L717.95,402.30 L718.26,402.54 L718.56,402.78 L718.86,403.02 L719.14,403.25 L719.42,403.49 L719.69,403.73 L719.95,403.97 L720.21,404.21 L720.45,404.45 L720.69,404.69 L720.92,404.92 L721.15,405.16 L721.36,405.40 L721.57,405.64 L721.77,405.88 L721.96,406.12 L722.14,406.35 L722.32,406.59 L722.48,406.83 L722.64,407.07 L722.79,407.31 L722.94,407.55 L723.08,407.79 L723.20,408.02 L723.32,408.26 L723.44,408.50 L723.54,408.74 L723.64,408.98 L723.73,409.22 L723.81,409.46 L723.88,409.69 L723.95,409.93 L724.01,410.17 L724.06,410.41 L724.10,410.65 L724.14,410.89 L724.17,411.12 L724.18,411.36 L724.20,411.60 L724.20,411.84"/>
<path stroke-dasharray="7.20 6.54" d="M29.00,376.18 L85.92,376.34 L109.41,376.50 L127.37,376.66 L142.46,376.82 L155.71,376.98 L167.65,377.14 L178.59,377.30 L188.73,377.46 L198.23,377.62 L207.18,377.78 L215.67,377.94 L223.75,378.10 L231.47,378.26 L238.88,378.42 L246.00,378.58 L252.86,378.74 L259.49,378.90 L265.90,379.06 L272.11,379.22 L278.15,379.38 L284.01,379.54 L289.71,379.70 L295.26,379.86 L300.68,380.02 L305.97,380.18 L311.13,380.34 L316.17,380.50 L321.10,380.66 L325.93,380.82 L330.66,380.98 L335.30,381.14 L339.84,381.30 L344.29,381.46 L348.66,381.61 L352.96,381.77 L357.17,381.93 L361.31,382.09 L365.38,382.25 L369.39,382.41 L373.32,382.57 L377.19,382.73 L381.00,382.89 L384.75,383.05 L388.45,383.21 L392.08,383.37 L395.67,383.53 L399.20,383.69 L402.68,383.85 L406.11,384.01 L409.49,384.17 L412.82,384.33 L416.11,384.49 L419.36,384.65 L422.56,384.81 L425.72,384.97 L428.83,385.13 L431.91,385.29 L434.95,385.45 L437.95,385.61 L440.91,385.77 L443.84,385.93 L446.73,386.09 L449.58,386.25 L452.40,386.41 L455.19,386.57 L457.94,386.73 L460.66,386.89 L463.35,387.04 L466.01,387.20 L468.64,387.36 L471.24,387.52 L473.81,387.68 L476.35,387.84 L478.86,388.00 L481.34,388.16 L483.80,388.32 L486.23,388.48 L488.63,388.64 L491.01,388.80 L493.36,388.96 L495.69,389.12 L497.99,389.28 L500.27,389.44 L502.52,389.60 L504.75,389.76 L506.96,389.92 L509.14,390.08 L511.30,390.24 L513.44,390.40 L515.56,390.56 L517.66,390.72 L519.73,390.88 L521.79,391.04 L523.82,391.20 L525.83,391.36 L527.82,391.52 L529.80,391.68 L531.75,391.84 L533.68,392.00 L535.60,392.16 L537.49,392.32 L539.37,392.47 L541.23,392.63 L543.07,392.79 L544.89,392.95 L546.70,393.11 L548.49,393.27 L550.26,393.43 L552.01,393.59 L553.74,393.75 L555.46,393.91 L557.17,394.07 L558.85,394.23 L560.52,394.39 L562.18,394.55 L563.81,394.71 L565.44,394.87 L567.04,395.03 L568.63,395.19 L570.21,395.35 L571.77,395.51 L573.32,395.67 L574.85,395.83 L576.36,395.99 L577.87,396.15 L579.36,396.31 L580.83,396.47 L582.29,396.63 L583.73,396.79 L585.17,396.95 L586.58,397.11 L587.99,397.27 L589.38,397.43 L590.76,397.59 L592.12,397.75 L593.48,397.90 L594.81,398.06 L596.14,398.22 L597.45,398.38 L598.75,398.54 L600.04,398.70 L601.32,398.86 L602.58,399.02 L603.83,399.18 L605.07,399.34 L606.30,399.50 L607.51,399.66 L608.72,399.82 L609.91,399.98 L611.09,400.14 L612.26,400.30 L613.41,400.46 L614.56,400.62 L615.69,400.78 L616.82,400.94 L617.93,401.10 L619.03,401.26 L620.12,401.42 L621.20,401.58 L622.27,401.74 L623.32,401.90 L624.37,402.06 L625.41,402.22 L626.43,402.38 L627.45,402.54 L628.45,402.70 L629.45,402.86 L630.43,403.02 L631.41,403.18 L632.37,403.33 L633.33,403.49 L634.27,403.65 L635.20,403.81 L636.13,403.97 L637.04,404.13 L637.95,404.29 L638.84,404.45 L639.73,404.61 L640.61,404.77 L641.47,404.93 L642.33,405.09 L643.18,405.25 L644.02,405.41 L644.85,405.57 L645.67,405.73 L646.48,405.89 L647.28,406.05 L648.08,406.21 L648.86,406.37 L649.64,406.53 L650.40,406.69 L651.16,406.85 L651.91,407.01 L652.65,407.17 L653.38,407.33 L654.10,407.49 L654.82,407.65 L655.52,407.81 L656.22,407.97 L656.91,408.13 L657.59,408.29 L658.26,408.45 L658.92,408.61 L659.58,408.76 L660.23,408.92 L660.87,409.08 L661.50,409.24 L662.12,409.40 L662.73,409.56 L663.34,409.72 L663.94,409.88 L664.53,410.04 L665.11,410.20 L665.69,410.36 L666.26,410.52 L666.81,410.68 L667.37,410.84 L667.91,411.00 L668.45,411.16 L668.97,411.32 L669.49,411.48 L670.01,411.64 L670.51,411.80 L671.01,411.96 L671.50,412.12 L671.98,412.28 L672.46,412.44 L672.93,412.60 L673.39,412.76 L673.84,412.92 L674.29,413.08 L674.73,413.24 L675.16,413.40 L675.58,413.56 L676.00,413.72 L676.41,413.88 L676.81,414.04 L677.21,414.19 L677.60,414.35 L677.98,414.51 L678.35,414.67 L678.72,414.83 L679.08,414.99 L679.44,415.15 L679.78,415.31 L680.12,415.47 L680.46,415.63 L680.78,415.79 L681.10,415.95 L681.41,416.11 L681.72,416.27 L682.02,416.43 L682.31,416.59 L682.60,416.75 L682.87,416.91 L683.15,417.07 L683.41,417.23 L683.67,417.39 L683.92,417.55 L684.17,417.71 L684.41,417.87 L684.64,418.03 L684.87,418.19 L685.09,418.35 L685.30,418.51 L685.51,418.67 L685.71,418.83 L685.90,418.99 L686.09,419.15 L686.27,419.31 L686.44,419.47 L686.61,419.62 L686.77,419.78 L686.93,419.94 L687.08,420.10 L687.22,420.26 L687.36,420.42 L687.49,420.58 L687.61,420.74 L687.73,420.90 L687.84,421.06 L687.95,421.22 L688.05,421.38 L688.14,421.54 L688.23,421.70 L688.31,421.86 L688.38,422.02 L688.45,422.18 L688.52,422.34 L688.57,422.50 L688.62,422.66 L688.67,422.82 L688.71,422.98 L688.74,423.14 L688.77,423.30 L688.79,423.46 L688.80,423.62 L688.81,423.78 L688.81,423.94"/>
<path stroke-dasharray="7.20 6.29" d="M29.00,396.80 L83.41,396.92 L105.85,397.05 L123.02,397.17 L137.43,397.29 L150.09,397.41 L161.49,397.54 L171.93,397.66 L181.62,397.78 L190.69,397.90 L199.23,398.02 L207.33,398.15 L215.04,398.27 L222.40,398.39 L229.46,398.51 L236.25,398.64 L242.79,398.76 L249.11,398.88 L255.22,399.00 L261.14,399.13 L266.89,399.25 L272.47,399.37 L277.90,399.49 L283.19,399.62 L288.35,399.74 L293.38,399.86 L298.29,399.98 L303.09,400.10 L307.78,400.23 L312.37,400.35 L316.87,400.47 L321.27,400.59 L325.59,400.72 L329.83,400.84 L333.98,400.96 L338.06,401.08 L342.06,401.21 L345.99,401.33 L349.86,401.45 L353.66,401.57 L357.39,401.70 L361.07,401.82 L364.68,401.94 L368.24,402.06 L371.74,402.18 L375.19,402.31 L378.59,402.43 L381.93,402.55 L385.23,402.67 L388.48,402.80 L391.68,402.92 L394.84,403.04 L397.96,403.16 L401.03,403.29 L404.06,403.41 L407.05,403.53 L410.00,403.65 L412.91,403.78 L415.78,403.90 L418.62,404.02 L421.42,404.14 L424.19,404.26 L426.92,404.39 L429.61,404.51 L432.28,404.63 L434.91,404.75 L437.51,404.88 L440.08,405.00 L442.62,405.12 L445.13,405.24 L447.61,405.37 L450.06,405.49 L452.48,405.61 L454.87,405.73 L457.24,405.86 L459.58,405.98 L461.90,406.10 L464.19,406.22 L466.45,406.34 L468.69,406.47 L470.90,406.59 L473.10,406.71 L475.26,406.83 L477.41,406.96 L479.53,407.08 L481.62,407.20 L483.70,407.32 L485.75,407.45 L487.78,407.57 L489.80,407.69 L491.79,407.81 L493.75,407.94 L495.70,408.06 L497.63,408.18 L499.54,408.30 L501.43,408.42 L503.30,408.55 L505.15,408.67 L506.98,408.79 L508.80,408.91 L510.59,409.04 L512.37,409.16 L514.13,409.28 L515.87,409.40 L517.59,409.53 L519.30,409.65 L520.99,409.77 L522.66,409.89 L524.32,410.02 L525.96,410.14 L527.58,410.26 L529.19,410.38 L530.78,410.50 L532.36,410.63 L533.92,410.75 L535.46,410.87 L536.99,410.99 L538.51,411.12 L540.01,411.24 L541.49,411.36 L542.97,411.48 L544.42,411.61 L545.86,411.73 L547.29,411.85 L548.71,411.97 L550.11,412.10 L551.49,412.22 L552.87,412.34 L554.23,412.46 L555.57,412.58 L556.91,412.71 L558.23,412.83 L559.54,412.95 L560.83,413.07 L562.11,413.20 L563.38,413.32 L564.64,413.44 L565.88,413.56 L567.12,413.69 L568.34,413.81 L569.54,413.93 L570.74,414.05 L571.92,414.18 L573.10,414.30 L574.26,414.42 L575.41,414.54 L576.55,414.66 L577.67,414.79 L578.79,414.91 L579.89,415.03 L580.99,415.15 L582.07,415.28 L583.14,415.40 L584.20,415.52 L585.25,415.64 L586.29,415.77 L587.32,415.89 L588.34,416.01 L589.35,416.13 L590.34,416.26 L591.33,416.38 L592.31,416.50 L593.28,416.62 L594.23,416.74 L595.18,416.87 L596.12,416.99 L597.04,417.11 L597.96,417.23 L598.87,417.36 L599.77,417.48 L600.66,417.60 L601.54,417.72 L602.41,417.85 L603.27,417.97 L604.12,418.09 L604.96,418.21 L605.80,418.34 L606.62,418.46 L607.43,418.58 L608.24,418.70 L609.04,418.82 L609.83,418.95 L610.61,419.07 L611.38,419.19 L612.14,419.31 L612.89,419.44 L613.64,419.56 L614.37,419.68 L615.10,419.80 L615.82,419.93 L616.53,420.05 L617.23,420.17 L617.93,420.29 L618.61,420.42 L619.29,420.54 L619.96,420.66 L620.62,420.78 L621.28,420.90 L621.92,421.03 L622.56,421.15 L623.19,421.27 L623.81,421.39 L624.43,421.52 L625.03,421.64 L625.63,421.76 L626.22,421.88 L626.81,422.01 L627.38,422.13 L627.95,422.25 L628.51,422.37 L629.07,422.50 L629.61,422.62 L630.15,422.74 L630.68,422.86 L631.20,422.98 L631.72,423.11 L632.23,423.23 L632.73,423.35 L633.23,423.47 L633.71,423.60 L634.19,423.72 L634.67,423.84 L635.13,423.96 L635.59,424.09 L636.04,424.21 L636.49,424.33 L636.93,424.45 L637.36,424.58 L637.78,424.70 L638.20,424.82 L638.61,424.94 L639.02,425.06 L639.42,425.19 L639.81,425.31 L640.19,425.43 L640.57,425.55 L640.94,425.68 L641.30,425.80 L641.66,425.92 L642.01,426.04 L642.36,426.17 L642.70,426.29 L643.03,426.41 L643.35,426.53 L643.67,426.66 L643.99,426.78 L644.29,426.90 L644.59,427.02 L644.89,427.14 L645.17,427.27 L645.46,427.39 L645.73,427.51 L646.00,427.63 L646.26,427.76 L646.52,427.88 L646.77,428.00 L647.01,428.12 L647.25,428.25 L647.49,428.37 L647.71,428.49 L647.93,428.61 L648.15,428.74 L648.36,428.86 L648.56,428.98 L648.76,429.10 L648.95,429.22 L649.13,429.35 L649.31,429.47 L649.49,429.59 L649.65,429.71 L649.81,429.84 L649.97,429.96 L650.12,430.08 L650.27,430.20 L650.41,430.33 L650.54,430.45 L650.67,430.57 L650.79,430.69 L650.91,430.82 L651.02,430.94 L651.12,431.06 L651.22,431.18 L651.32,431.30 L651.40,431.43 L651.49,431.55 L651.57,431.67 L651.64,431.79 L651.70,431.92 L651.77,432.04 L651.82,432.16 L651.87,432.28 L651.92,432.41 L651.96,432.53 L651.99,432.65 L652.02,432.77 L652.04,432.89 L652.06,433.02 L652.08,433.14 L652.08,433.26 L652.09,433.38"/>
</g>
<g id="axes">
<line x1="14.3" y1="483.25" x2="781.7" y2="483.25" stroke="#666" stroke-width="1.6"/>
<line x1="29.00" y1="31.8" x2="29.00" y2="506" stroke="#666" stroke-width="1.6"/>
<line x1="63.76" y1="483.15" x2="63.76" y2="477.65" stroke="#1c1c1c" stroke-width="1.1"/>
<line x1="98.52" y1="483.15" x2="98.52" y2="477.65" stroke="#1c1c1c" stroke-width="1.1"/>
<line x1="133.28" y1="483.15" x2="133.28" y2="477.65" stroke="#1c1c1c" stroke-width="1.1"/>
<line x1="168.04" y1="483.15" x2="168.04" y2="474.15" stroke="#1c1c1c" stroke-width="1.1"/>
<line x1="202.80" y1="483.15" x2="202.80" y2="477.65" stroke="#1c1c1c" stroke-width="1.1"/>
<line x1="237.56" y1="483.15" x2="237.56" y2="477.65" stroke="#1c1c1c" stroke-width="1.1"/>
<line x1="272.32" y1="483.15" x2="272.32" y2="477.65" stroke="#1c1c1c" stroke-width="1.1"/>
<line x1="307.08" y1="483.15" x2="307.08" y2="474.15" stroke="#1c1c1c" stroke-width="1.1"/>
<line x1="341.84" y1="483.15" x2="341.84" y2="477.65" stroke="#1c1c1c" stroke-width="1.1"/>
<line x1="376.60" y1="483.15" x2="376.60" y2="477.65" stroke="#1c1c1c" stroke-width="1.1"/>
<line x1="411.36" y1="483.15" x2="411.36" y2="477.65" stroke="#1c1c1c" stroke-width="1.1"/>
<line x1="446.12" y1="483.15" x2="446.12" y2="474.15" stroke="#1c1c1c" stroke-width="1.1"/>
<line x1="480.88" y1="483.15" x2="480.88" y2="477.65" stroke="#1c1c1c" stroke-width="1.1"/>
<line x1="515.64" y1="483.15" x2="515.64" y2="477.65" stroke="#1c1c1c" stroke-width="1.1"/>
<line x1="550.40" y1="483.15" x2="550.40" y2="477.65" stroke="#1c1c1c" stroke-width="1.1"/>
<line x1="585.16" y1="483.15" x2="585.16" y2="474.15" stroke="#1c1c1c" stroke-width="1.1"/>
<line x1="619.92" y1="483.15" x2="619.92" y2="477.65" stroke="#1c1c1c" stroke-width="1.1"/>
<line x1="654.68" y1="483.15" x2="654.68" y2="477.65" stroke="#1c1c1c" stroke-width="1.1"/>
<line x1="689.44" y1="483.15" x2="689.44" y2="477.65" stroke="#1c1c1c" stroke-width="1.1"/>
<line x1="724.20" y1="483.15" x2="724.20" y2="474.15" stroke="#1c1c1c" stroke-width="1.1"/>
<line x1="758.96" y1="483.15" x2="758.96" y2="477.65" stroke="#1c1c1c" stroke-width="1.1"/>
<line x1="29.00" y1="497.41" x2="34.50" y2="497.41" stroke="#1c1c1c" stroke-width="1.1"/>
<line x1="29.00" y1="468.89" x2="34.50" y2="468.89" stroke="#1c1c1c" stroke-width="1.1"/>
<line x1="29.00" y1="454.63" x2="34.50" y2="454.63" stroke="#1c1c1c" stroke-width="1.1"/>
<line x1="29.00" y1="440.36" x2="34.50" y2="440.36" stroke="#1c1c1c" stroke-width="1.1"/>
<line x1="29.00" y1="426.10" x2="34.50" y2="426.10" stroke="#1c1c1c" stroke-width="1.1"/>
<line x1="29.00" y1="411.84" x2="38.00" y2="411.84" stroke="#1c1c1c" stroke-width="1.1"/>
<line x1="29.00" y1="397.58" x2="34.50" y2="397.58" stroke="#1c1c1c" stroke-width="1.1"/>
<line x1="29.00" y1="383.32" x2="34.50" y2="383.32" stroke="#1c1c1c" stroke-width="1.1"/>
<line x1="29.00" y1="369.05" x2="34.50" y2="369.05" stroke="#1c1c1c" stroke-width="1.1"/>
<line x1="29.00" y1="354.79" x2="34.50" y2="354.79" stroke="#1c1c1c" stroke-width="1.1"/>
<line x1="29.00" y1="340.53" x2="38.00" y2="340.53" stroke="#1c1c1c" stroke-width="1.1"/>
<line x1="29.00" y1="326.27" x2="34.50" y2="326.27" stroke="#1c1c1c" stroke-width="1.1"/>
<line x1="29.00" y1="312.01" x2="34.50" y2="312.01" stroke="#1c1c1c" stroke-width="1.1"/>
<line x1="29.00" y1="297.74" x2="34.50" y2="297.74" stroke="#1c1c1c" stroke-width="1.1"/>
<line x1="29.00" y1="283.48" x2="34.50" y2="283.48" stroke="#1c1c1c" stroke-width="1.1"/>
<line x1="29.00" y1="269.22" x2="38.00" y2="269.22" stroke="#1c1c1c" stroke-width="1.1"/>
<line x1="29.00" y1="254.96" x2="34.50" y2="254.96" stroke="#1c1c1c" stroke-width="1.1"/>
<line x1="29.00" y1="240.70" x2="34.50" y2="240.70" stroke="#1c1c1c" stroke-width="1.1"/>
<line x1="29.00" y1="226.43" x2="34.50" y2="226.43" stroke="#1c1c1c" stroke-width="1.1"/>
<line x1="29.00" y1="212.17" x2="34.50" y2="212.17" stroke="#1c1c1c" stroke-width="1.1"/>
<line x1="29.00" y1="197.91" x2="38.00" y2="197.91" stroke="#1c1c1c" stroke-width="1.1"/>
<line x1="29.00" y1="183.65" x2="34.50" y2="183.65" stroke="#1c1c1c" stroke-width="1.1"/>
<line x1="29.00" y1="169.39" x2="34.50" y2="169.39" stroke="#1c1c1c" stroke-width="1.1"/>
<line x1="29.00" y1="155.12" x2="34.50" y2="155.12" stroke="#1c1c1c" stroke-width="1.1"/>
<line x1="29.00" y1="140.86" x2="34.50" y2="140.86" stroke="#1c1c1c" stroke-width="1.1"/>
<line x1="29.00" y1="126.60" x2="38.00" y2="126.60" stroke="#1c1c1c" stroke-width="1.1"/>
<line x1="29.00" y1="112.34" x2="34.50" y2="112.34" stroke="#1c1c1c" stroke-width="1.1"/>
<line x1="29.00" y1="98.08" x2="34.50" y2="98.08" stroke="#1c1c1c" stroke-width="1.1"/>
<line x1="29.00" y1="83.81" x2="34.50" y2="83.81" stroke="#1c1c1c" stroke-width="1.1"/>
<line x1="29.00" y1="69.55" x2="34.50" y2="69.55" stroke="#1c1c1c" stroke-width="1.1"/>
<line x1="29.00" y1="55.29" x2="38.00" y2="55.29" stroke="#1c1c1c" stroke-width="1.1"/>
<line x1="29.00" y1="41.03" x2="34.50" y2="41.03" stroke="#1c1c1c" stroke-width="1.1"/>
</g>
<path id="redu" fill="#ff0000" fill-rule="evenodd" stroke="none" d="M143.42,482.51 L159.40,482.21 L176.25,481.86 L192.10,481.49 L207.65,481.09 L223.02,480.65 L238.89,480.15 L254.29,479.63 L271.36,479.01 L285.80,478.44 L301.49,477.77 L317.97,477.03 L332.36,476.33 L347.30,475.57 L362.50,474.74 L376.86,473.91 L390.47,473.08 L406.46,472.06 L419.74,471.15 L431.37,470.33 L446.13,469.22 L456.69,468.39 L470.15,467.29 L482.96,466.19 L495.18,465.08 L506.85,463.98 L520.72,462.60 L531.29,461.50 L543.89,460.12 L553.52,459.01 L565.01,457.63 L575.95,456.25 L586.36,454.87 L596.28,453.49 L605.73,452.12 L614.74,450.74 L623.33,449.36 L631.52,447.98 L640.84,446.32 L648.21,444.94 L656.59,443.28 L663.20,441.90 L670.72,440.25 L677.80,438.59 L684.45,436.94 L690.69,435.28 L696.55,433.62 L702.02,431.96 L704.62,431.14 L707.94,430.03 L712.64,428.37 L717.00,426.71 L719.05,425.89 L721.03,425.06 L722.93,424.23 L725.33,423.12 L727.04,422.29 L728.68,421.46 L730.24,420.63 L732.21,419.52 L733.61,418.69 L734.93,417.86 L736.18,417.02 L737.75,415.91 L738.84,415.08 L739.87,414.25 L740.83,413.41 L742.01,412.30 L742.82,411.46 L743.80,410.34 L744.47,409.50 L745.26,408.38 L745.78,407.54 L746.38,406.42 L746.77,405.57 L747.19,404.44 L747.51,403.32 L747.68,402.46 L747.83,401.34 L747.88,400.20 L747.22,400.20 L747.20,400.74 L747.14,401.54 L746.98,402.62 L746.73,403.70 L746.37,404.77 L746.04,405.58 L745.79,406.12 L745.21,407.21 L744.52,408.29 L743.73,409.38 L742.83,410.47 L741.81,411.56 L740.68,412.65 L739.76,413.47 L738.43,414.56 L737.35,415.38 L735.81,416.48 L734.57,417.30 L732.81,418.40 L730.92,419.50 L728.90,420.60 L727.10,421.52 L729.07,420.42 L730.86,419.34 L732.52,418.27 L734.41,416.92 L735.80,415.85 L737.07,414.76 L738.22,413.68 L738.75,413.14 L739.49,412.33 L740.38,411.25 L741.17,410.16 L741.52,409.61 L741.98,408.80 L742.52,407.70 L742.94,406.60 L743.11,406.05 L743.32,405.24 L743.50,404.13 L743.56,403.58 L743.58,402.76 L742.93,402.75 L742.88,403.80 L742.73,404.83 L742.48,405.87 L742.13,406.92 L741.67,407.96 L741.11,409.01 L740.44,410.06 L739.66,411.11 L738.76,412.16 L738.02,412.95 L736.92,414.01 L736.02,414.80 L734.72,415.86 L733.66,416.66 L732.54,417.46 L731.34,418.25 L729.64,419.32 L728.28,420.11 L726.84,420.91 L725.02,421.88 L726.53,421.01 L728.24,419.96 L729.82,418.92 L731.29,417.87 L732.62,416.82 L733.85,415.77 L734.95,414.71 L735.94,413.65 L736.81,412.60 L737.56,411.54 L738.21,410.48 L738.74,409.40 L739.15,408.33 L739.46,407.26 L739.65,406.19 L739.71,405.65 L739.74,404.85 L739.08,404.84 L739.03,405.85 L738.87,406.86 L738.61,407.87 L738.34,408.63 L737.89,409.65 L737.33,410.66 L736.66,411.68 L736.08,412.45 L735.21,413.48 L734.48,414.25 L733.68,415.02 L732.82,415.79 L731.89,416.56 L730.89,417.34 L729.82,418.11 L728.68,418.89 L727.47,419.67 L726.19,420.44 L724.84,421.22 L722.99,422.22 L724.39,421.40 L726.01,420.37 L727.51,419.35 L728.89,418.33 L729.84,417.55 L731.01,416.52 L732.05,415.50 L732.98,414.46 L733.60,413.68 L734.32,412.64 L734.93,411.61 L735.42,410.56 L735.79,409.51 L736.00,408.72 L736.17,407.67 L736.23,406.62 L735.57,406.61 L735.54,407.35 L735.41,408.33 L735.16,409.32 L734.91,410.06 L734.47,411.05 L734.07,411.79 L733.43,412.79 L732.88,413.54 L732.26,414.29 L731.58,415.04 L730.82,415.79 L730.00,416.55 L729.11,417.30 L728.15,418.06 L727.13,418.81 L726.03,419.57 L724.86,420.33 L723.62,421.09 L722.31,421.85 L721.03,422.55 L722.53,421.64 L724.05,420.64 L725.12,419.89 L726.44,418.88 L727.35,418.12 L728.44,417.12 L729.19,416.35 L730.08,415.34 L730.68,414.58 L731.36,413.56 L731.80,412.79 L732.27,411.77 L732.55,410.99 L732.82,409.97 L732.94,409.18 L733.00,408.16 L732.34,408.15 L732.31,408.87 L732.17,409.83 L731.92,410.80 L731.66,411.52 L731.21,412.49 L730.80,413.22 L730.32,413.95 L729.77,414.68 L729.16,415.41 L728.48,416.15 L727.73,416.89 L727.19,417.38 L726.33,418.12 L725.39,418.86 L723.68,420.10 L722.56,420.84 L721.37,421.58 L719.22,422.82 L717.84,423.57 L716.38,424.31 L713.79,425.55 L712.13,426.30 L710.40,427.04 L707.34,428.29 L703.38,429.78 L699.84,431.02 L696.02,432.29 L699.30,431.11 L702.39,429.92 L705.26,428.73 L706.89,428.02 L708.44,427.30 L710.86,426.11 L713.08,424.92 L715.10,423.73 L716.21,423.02 L717.26,422.30 L718.23,421.58 L719.13,420.86 L719.97,420.14 L720.49,419.66 L721.20,418.94 L721.85,418.22 L722.25,417.73 L722.78,417.00 L723.24,416.27 L723.51,415.78 L723.85,415.05 L724.13,414.32 L724.28,413.81 L724.43,413.08 L724.49,412.58 L724.53,411.85 L723.87,411.83 L723.84,412.52 L723.69,413.43 L723.50,414.11 L723.25,414.79 L722.80,415.71 L722.39,416.40 L721.90,417.09 L721.35,417.79 L720.72,418.48 L720.03,419.18 L719.27,419.88 L718.72,420.35 L717.83,421.06 L716.88,421.76 L715.12,422.93 L713.98,423.64 L712.76,424.35 L711.46,425.05 L710.10,425.76 L708.65,426.47 L707.14,427.18 L704.45,428.36 L700.94,429.78 L697.79,430.96 L693.71,432.38 L690.08,433.56 L687.01,434.51 L683.79,435.45 L677.81,437.11 L674.18,438.06 L670.41,439.01 L663.41,440.66 L659.20,441.61 L654.82,442.56 L646.74,444.21 L638.13,445.87 L628.30,447.65 L635.25,446.27 L642.63,444.69 L648.63,443.32 L651.86,442.53 L654.96,441.74 L660.06,440.37 L662.78,439.58 L665.37,438.79 L667.82,438.00 L670.14,437.22 L672.33,436.43 L674.39,435.64 L676.31,434.85 L678.10,434.06 L679.76,433.27 L681.28,432.48 L682.68,431.69 L683.94,430.89 L684.80,430.29 L685.82,429.50 L686.72,428.69 L687.47,427.88 L688.09,427.06 L688.35,426.65 L688.57,426.24 L688.84,425.61 L689.02,425.00 L689.10,424.56 L689.14,423.94 L688.48,423.93 L688.47,424.30 L688.38,424.85 L688.22,425.40 L688.07,425.77 L687.78,426.32 L687.54,426.70 L686.97,427.46 L686.44,428.03 L686.05,428.41 L685.40,428.99 L684.92,429.37 L683.57,430.34 L682.34,431.12 L680.61,432.09 L678.66,433.07 L676.51,434.05 L674.64,434.83 L672.10,435.81 L669.93,436.59 L667.02,437.57 L664.54,438.36 L661.25,439.34 L657.75,440.32 L654.04,441.30 L650.91,442.09 L646.81,443.07 L643.37,443.85 L638.87,444.83 L635.12,445.62 L630.22,446.60 L626.13,447.39 L620.81,448.37 L616.39,449.16 L610.64,450.14 L605.86,450.92 L599.66,451.90 L594.52,452.69 L601.29,451.52 L607.54,450.36 L613.38,449.21 L619.57,447.89 L625.22,446.57 L629.74,445.41 L632.15,444.75 L634.42,444.09 L638.08,442.93 L639.99,442.27 L641.77,441.61 L643.41,440.94 L644.56,440.45 L645.97,439.78 L646.94,439.28 L648.11,438.61 L648.90,438.11 L649.83,437.44 L650.45,436.93 L651.13,436.25 L651.56,435.73 L651.91,435.19 L652.08,434.85 L652.23,434.49 L652.37,433.94 L652.42,433.39 L651.76,433.37 L651.72,433.82 L651.65,434.12 L651.55,434.42 L651.41,434.72 L651.24,435.02 L650.91,435.49 L650.34,436.12 L649.82,436.60 L649.00,437.24 L648.29,437.72 L647.50,438.21 L646.62,438.70 L645.68,439.19 L644.65,439.68 L642.36,440.66 L639.77,441.65 L636.87,442.63 L633.68,443.62 L630.18,444.61 L625.73,445.76 L620.88,446.91 L616.40,447.90 L611.63,448.89 L606.55,449.88 L600.25,451.03 L594.52,452.02 L588.49,453.01 L582.14,454.00 L574.33,455.15 L567.28,456.14 L559.90,457.13 L552.17,458.12 L544.09,459.11 L535.65,460.10 L526.82,461.09 L519.16,461.91 L509.59,462.90 L501.29,463.73 L490.90,464.71 L481.89,465.54 L472.52,466.36 L462.78,467.19 L452.64,468.01 L442.08,468.84 L421.90,470.32 L409.97,471.14 L400.02,471.80 L378.89,473.12 L355.87,474.44 L333.84,475.60 L309.63,476.75 L286.46,477.75 L261.95,478.70 L235.81,479.59 L211.21,480.33 L197.57,480.69 L183.84,481.03 L158.24,481.57 L144.19,481.83 L129.92,482.06 L108.13,482.36 L108.14,483.02 L126.21,482.78Z "/>
<path d="M29.00,269.22 A737.371,106.965 0 0 1 29.00,483.15" fill="none" stroke="#000" stroke-width="3.95" stroke-linecap="round"/>
<path fill="#ff0000" fill-rule="evenodd" stroke="none" d="M159.40,482.21 L176.25,481.86 L192.10,481.49 L207.65,481.09 L223.02,480.65 L238.89,480.15 L254.29,479.63 L271.36,479.01 L285.80,478.44 L301.49,477.77 L317.97,477.03 L332.36,476.33 L347.30,475.57 L362.50,474.74 L376.86,473.91 L390.47,473.08 L406.46,472.06 L419.74,471.15 L431.37,470.33 L446.13,469.22 L456.69,468.39 L470.15,467.29 L482.96,466.19 L495.18,465.08 L506.85,463.98 L515.64,463.11 L515.64,462.28 L509.59,462.90 L501.29,463.73 L490.90,464.71 L481.89,465.54 L472.52,466.36 L462.78,467.19 L452.64,468.01 L442.08,468.84 L421.90,470.32 L409.97,471.14 L400.02,471.80 L378.89,473.12 L355.87,474.44 L333.84,475.60 L309.63,476.75 L286.46,477.75 L261.95,478.70 L235.81,479.59 L211.21,480.33 L197.57,480.69 L183.84,481.03 L158.24,481.57 L144.19,481.83 L129.92,482.06 L108.13,482.36 L108.14,483.02 L126.21,482.78 L143.42,482.51Z "/>
</g>
<g id="legend">
<rect x="471.3" y="36.2" width="298.2" height="132.4" fill="#fff" stroke="#ebebeb" stroke-width="1"/>
<line x1="488" y1="54.9" x2="572" y2="54.9" stroke="#505050" stroke-width="1.3" stroke-dasharray="2.5 6.15"/>
<line x1="488" y1="86.4" x2="576" y2="86.4" stroke="#2020ff" stroke-width="1" stroke-dasharray="7.4 6.15"/>
<line x1="488" y1="118.4" x2="575.6" y2="118.4" stroke="#ff3030" stroke-width="0.9"/>
<line x1="487.5" y1="149.9" x2="575.8" y2="149.9" stroke="#000" stroke-width="4"/>
<text x="586.5" y="57.0">Cosmological horizon</text>
<text x="586.5" y="90.7">Event horizon</text>
<text x="586.5" y="120.7">Cauchy horizon</text>
<text x="586.5" y="152.1">Critical point</text>
</g>
</svg>
</body></html>
